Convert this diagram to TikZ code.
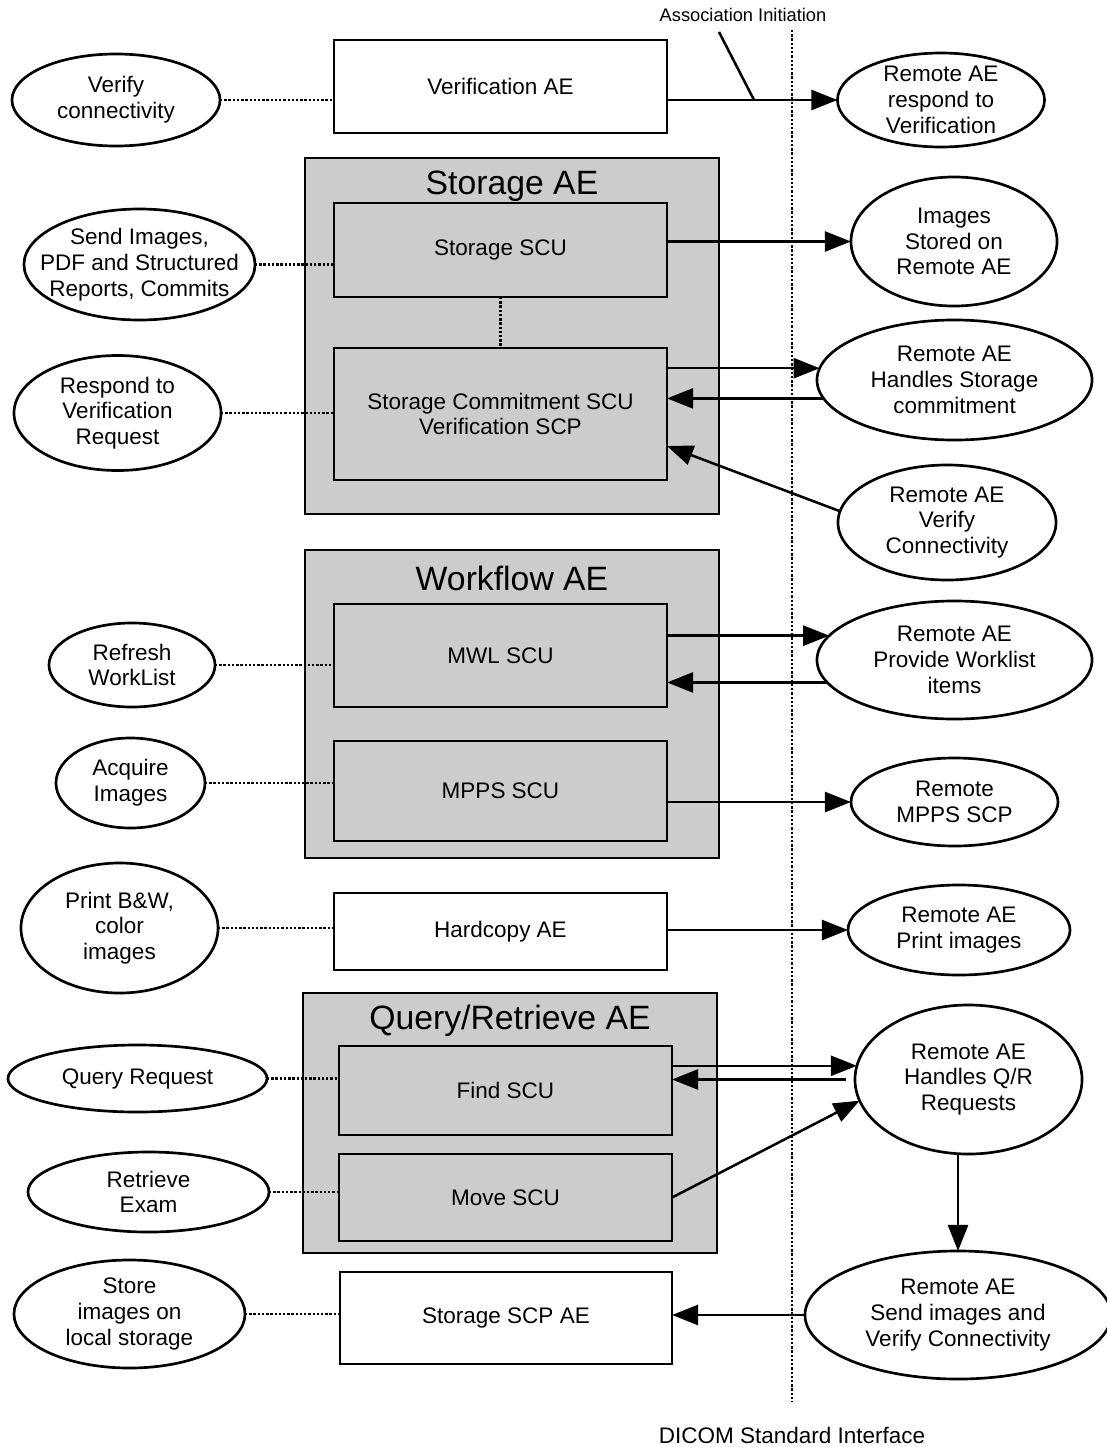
\documentclass[tikz,border=0pt]{standalone}
\usepackage{fontspec}
\setmainfont{Liberation Sans}
\usetikzlibrary{shapes.geometric,arrows.meta}
\definecolor{aegray}{HTML}{CCCCCC}

\begin{document}
\begin{tikzpicture}[x=0.025cm,y=-0.025cm,
  every node/.style={inner sep=0pt, outer sep=0pt},
  txt/.style={align=center, font=\fontsize{16}{18.3}\selectfont},
  aebox/.style 2 args={draw, line width=1.9pt, fill=white, txt, minimum width=#1cm, minimum height=#2cm},
  subbox/.style 2 args={aebox={#1}{#2}, fill=aegray},
  group/.style 2 args={draw, line width=1.9pt, fill=aegray, minimum width=#1cm, minimum height=#2cm},
  grouptitle/.style={font=\fontsize{24}{28}\selectfont},
  oval/.style 2 args={ellipse, draw, line width=1.9pt, fill=white, minimum width=#1cm, minimum height=#2cm},
  link/.style={line width=1.5pt, dash pattern=on 1.7pt off 1.3pt},
  arr/.style={line width=1.8pt, -{Triangle[length=0.65cm,width=0.5cm]}}]
  \useasboundingbox (0,0) rectangle (1106,1447);

  % DICOM interface line
  \coordinate (ifctop) at (792,30);
  \coordinate (ifcbot) at (792,1402);
  \draw[link] (ifctop) -- (ifcbot);
  \node[font=\fontsize{13}{15}\selectfont] (assoclbl) at (743,15) {Association Initiation};
  \node[txt] (ifclbl) at (792,1435) {DICOM Standard Interface};

  % Verification AE
  \node[aebox={8.325}{2.325}] (vae) at (500.5,86.5) {Verification AE};
  \node[oval={5.2}{2.3}, label={[txt]center:{Verify\\connectivity}}] (vcn) at (116,100) {};
  \node[oval={5.175}{2.35}, label={[txt]center:{Remote AE\\respond to\\Verification}}] (rve) at (941,100) {};

  % Storage AE
  \node[group={10.35}{8.9}] (stg) at (512,336) {};
  \node[grouptitle] (stgt) at (512,186) {Storage AE};
  \node[subbox={8.325}{2.35}] (ssu) at (500.5,250) {Storage SCU};
  \node[subbox={8.325}{3.3}] (scv) at (500.5,414) {Storage Commitment SCU\\Verification SCP};
  \node[oval={5.775}{2.775}, label={[txt]center:{Send Images,\\PDF and Structured\\Reports, Commits}}] (sim) at (139.5,264.5) {};
  \node[oval={5.15}{3.225}, label={[txt]center:{Images\\Stored on\\Remote AE}}] (ist) at (954,241.5) {};
  \node[oval={5.175}{2.875}, label={[txt]center:{Respond to\\Verification\\Request}}] (rvr) at (117.5,413) {};
  \node[oval={6.875}{3}, label={[txt]center:{Remote AE\\Handles Storage\\commitment}}] (hsc) at (954.5,380) {};
  \node[oval={5.45}{2.875}, label={[txt]center:{Remote AE\\Verify\\Connectivity}}] (rvc) at (947,522.5) {};

  % Workflow AE
  \node[group={10.35}{7.7}] (wfl) at (512,704) {};
  \node[grouptitle] (wflt) at (512,578) {Workflow AE};
  \node[subbox={8.325}{2.575}] (mwl) at (500.5,655.5) {MWL SCU};
  \node[subbox={8.325}{2.5}] (mps) at (500.5,791) {MPPS SCU};
  \node[oval={4.15}{2.1}, label={[txt]center:{Refresh\\WorkList}}] (rwl) at (132,665) {};
  \node[oval={3.725}{2.25}, label={[txt]center:{Acquire\\Images}}] (acq) at (130.5,783) {};
  \node[oval={6.875}{2.95}, label={[txt]center:{Remote AE\\Provide Worklist\\items}}] (rpw) at (954.5,660) {};
  \node[oval={5.175}{2.2}, label={[txt]center:{Remote\\MPPS SCP}}] (rmp) at (954.5,802) {};

  % Hardcopy AE
  \node[aebox={8.325}{1.925}] (hca) at (500.5,931.5) {Hardcopy AE};
  \node[oval={4.925}{3.25}, label={[txt]center:{Print B\&W,\\color\\images}}] (pbw) at (119.5,928) {};
  \node[oval={5.55}{2.25}, label={[txt]center:{Remote AE\\Print images}}] (rpi) at (959,930) {};

  % Query/Retrieve AE
  \node[group={10.35}{6.5}] (qra) at (510,1123) {};
  \node[grouptitle] (qrat) at (510,1021) {Query/Retrieve AE};
  \node[subbox={8.325}{2.225}] (fnd) at (505.5,1090.5) {Find SCU};
  \node[subbox={8.325}{2.175}] (mov) at (505.5,1197.5) {Move SCU};
  \node[oval={6.475}{1.675}, label={[txt]center:{Query Request}}] (qrq) at (137.5,1078.5) {};
  \node[oval={6.025}{2}, label={[txt]center:{Retrieve\\Exam}}] (rex) at (148.5,1192) {};
  \node[oval={5.675}{3.725}, label={[txt]center:{Remote AE\\Handles Q/R\\Requests}}] (qrr) at (968.5,1079.5) {};

  % Storage SCP AE
  \node[aebox={8.3}{2.3}] (scp) at (506,1318) {Storage SCP AE};
  \node[oval={5.775}{2.7}, label={[txt]center:{Store\\images on\\local storage}}] (sls) at (129.5,1314) {};
  \node[oval={7.65}{3.2}, label={[txt]center:{Remote AE\\Send images and\\Verify Connectivity}}] (snd) at (958,1315) {};

  % dotted links to local activities
  \draw[link] (vcn.east) -- (vae.west |- vcn.east);
  \draw[link] (sim.east) -- (ssu.west |- sim.east);
  \draw[link] (rvr.east) -- (scv.west |- rvr.east);
  \draw[link] (ssu.south) -- (scv.north);
  \draw[link] (rwl.east) -- (mwl.west |- rwl.east);
  \draw[link] (acq.east) -- (mps.west |- acq.east);
  \draw[link] (pbw.east) -- (hca.west |- pbw.east);
  \draw[link] (qrq.east) -- (fnd.west |- qrq.east);
  \draw[link] (rex.east) -- (mov.west |- rex.east);
  \draw[link] (sls.east) -- (scp.west |- sls.east);

  % associations with remote AEs
  \draw[arr] (vae.east |- rve.west) -- (rve.west);
  \coordinate (assoc) at (719,32);
  \coordinate (assocend) at (754,100);
  \draw[line width=1.8pt] (assoc) -- (assocend);
  \draw[arr] (ssu.east |- ist.west) -- (ist.west);
  \draw[arr] (scv.east |- hsc.175) -- (hsc.175);
  \draw[arr] (hsc.188) -- (scv.east |- hsc.188);
  \draw[arr] (rvc.174) -- ([yshift=-0.8cm]scv.east);
  \draw[arr] (mwl.east |- rpw.169) -- (rpw.169);
  \draw[arr] (rpw.190) -- (mwl.east |- rpw.190);
  \draw[arr] (mps.east |- rmp.west) -- (rmp.west);
  \draw[arr] (hca.east |- rpi.west) -- (rpi.west);
  \draw[arr] (fnd.east |- qrr.173) -- (qrr.173);
  \draw[arr] ([xshift=-0.225cm]qrr.west) -- (fnd.east |- qrr.west);
  \draw[arr] (mov.east) -- (qrr.191);
  \draw[arr] (snd.north |- qrr.south) -- (snd.north);
  \draw[arr] (snd.west) -- (scp.east |- snd.west);
\end{tikzpicture}
\end{document}
